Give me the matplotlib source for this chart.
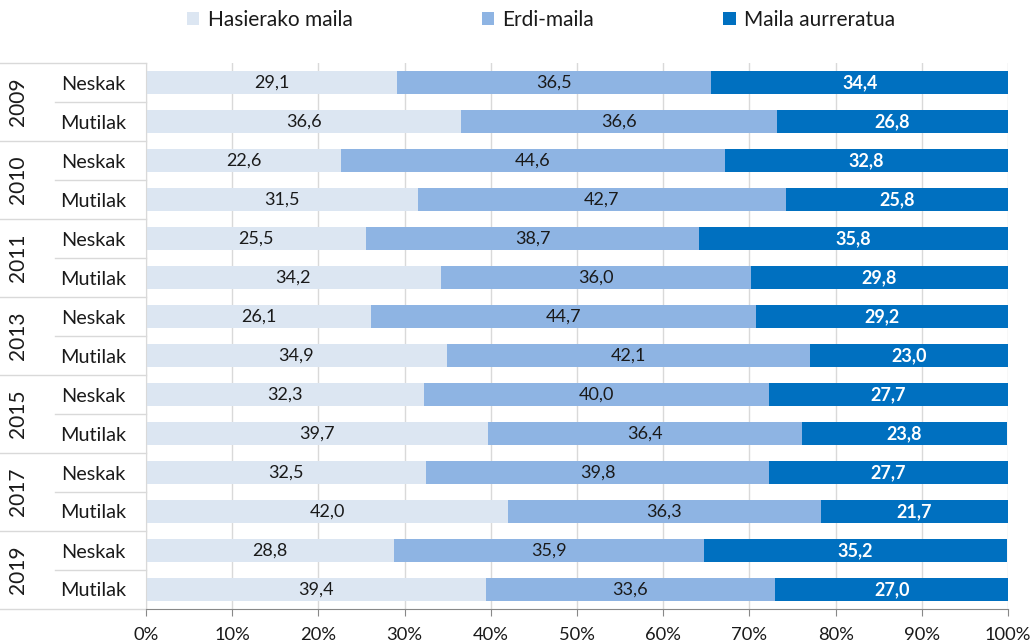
import numpy as np
import matplotlib.pyplot as plt
import matplotlib.transforms as mtransforms
from matplotlib.ticker import PercentFormatter

# data
years = ['2009', '2010', '2011', '2013', '2015', '2017', '2019']
groups = ['Neskak', 'Mutilak']
series_names = ['Hasierako maila', 'Erdi-maila', 'Maila aurreratua']

hasierako = [29.1, 36.6, 22.6, 31.5, 25.5, 34.2, 26.1, 34.9, 32.3, 39.7, 32.5, 42.0, 28.8, 39.4]
erdi = [36.5, 36.6, 44.6, 42.7, 38.7, 36.0, 44.7, 42.1, 40.0, 36.4, 39.8, 36.3, 35.9, 33.6]
aurreratua = [34.4, 26.8, 32.8, 25.8, 35.8, 29.8, 29.2, 23.0, 27.7, 23.8, 27.7, 21.7, 35.2, 27.0]

colors = ['#DCE6F2', '#8EB4E3', '#0070C0']
text_colors = ['#1a1a1a', '#1a1a1a', 'white']
grid_col = '#D9D9D9'

plt.rcParams['font.family'] = ['Lato', 'DejaVu Sans']

fig = plt.figure(figsize=(10.35, 6.43), dpi=100)
ax = fig.add_axes([146/1035, 1 - 609/643, 862/1035, 546/643])

n = len(hasierako)
ypos = np.arange(n)
left = np.zeros(n)
for vals, col, tcol, name in zip([hasierako, erdi, aurreratua], colors, text_colors, series_names):
    vals = np.array(vals)
    bars = ax.barh(ypos, vals, left=left, height=0.6, color=col, label=name, zorder=2)
    ax.bar_label(bars, labels=[f'{v:.1f}'.replace('.', ',') for v in vals],
                 label_type='center', color=tcol, fontsize=13,
                 fontweight='bold' if tcol == 'white' else 'normal')
    left += vals

ax.set_xlim(0, 100)
ax.set_ylim(n - 0.5, -0.5)
ax.xaxis.set_major_formatter(PercentFormatter(decimals=0))
ax.set_xticks(np.arange(0, 101, 10))
ax.grid(axis='x', color=grid_col, linewidth=1, zorder=0)
ax.tick_params(axis='x', length=5, colors='#888888', labelcolor='#1a1a1a',
               labelsize=13.2, pad=8)

ax.set_yticks(ypos)
ax.set_yticklabels(groups * len(years), fontsize=14.3)
ax.tick_params(axis='y', length=0, pad=14.5, labelcolor='#1a1a1a')

for s in ['top', 'right']:
    ax.spines[s].set_visible(False)
ax.spines['left'].set_color(grid_col)
ax.spines['bottom'].set_color('#888888')

# category separators on the left
trans = mtransforms.blended_transform_factory(ax.transAxes, ax.transData)
for i in range(n + 1):
    b = i - 0.5
    x0 = -146/862 if i % 2 == 0 else -91/862
    ax.plot([x0, 0], [b, b], color=grid_col, linewidth=1, transform=trans, clip_on=False)
for k, yr in enumerate(years):
    ax.text(-128/862, 2*k + 0.5, yr, rotation=90, ha='center', va='center',
            fontsize=15, color='#1a1a1a', transform=trans)

fig.legend(loc='center', bbox_to_anchor=(541/1035, 1 - 20/643), ncol=3, frameon=False,
           fontsize=15, handlelength=0.6, handleheight=0.6, handletextpad=0.4,
           columnspacing=6.2, borderaxespad=0, labelcolor='#1a1a1a')

fig.savefig('out.png', dpi=100)
